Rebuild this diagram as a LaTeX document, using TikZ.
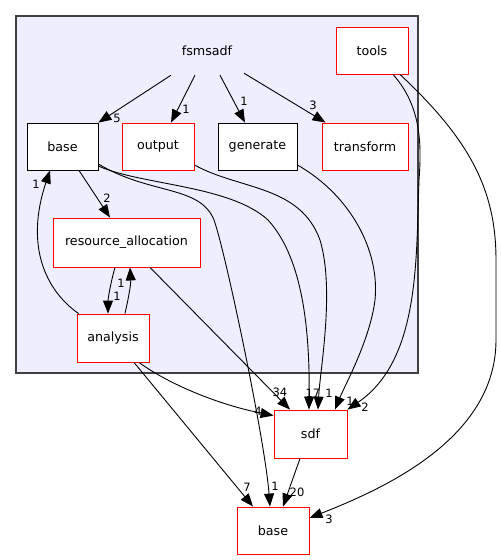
\documentclass[tikz,border=0pt]{standalone}
\usepackage{fontspec}
\setmainfont{DejaVu Sans}
\usetikzlibrary{calc,arrows.meta}
\definecolor{clusterbg}{HTML}{EEEEFF}
\definecolor{clusterline}{HTML}{404040}
\definecolor{dirred}{HTML}{FF0000}
\tikzset{
  dirbox/.style={draw=black, fill=white, line width=0.9pt, minimum height=47pt, inner sep=0pt, font=\fontsize{12.7}{15}\selectfont},
  dirred/.style={dirbox, draw=dirred},
  dep/.style={draw=black, line width=0.9pt, -{Triangle[length=13pt,width=10pt]}},
  num/.style={font=\fontsize{11.5}{13}\selectfont, inner sep=0pt}
}
\begin{document}
\begin{tikzpicture}[x=1pt,y=-1pt]
  \useasboundingbox (0,0) rectangle (501,560);
  \draw[fill=clusterbg, draw=clusterline, line width=1.1pt] (16,16) rectangle (418,373);
  \node[font=\fontsize{12.7}{15}\selectfont, minimum width=80pt, minimum height=48pt] (fsmsadf) at (207,51) {fsmsadf};
  \node[dirred, minimum width=72pt] (tools) at (372,50.5) {tools};
  \node[dirbox, minimum width=71pt] (baseA) at (62.5,146.5) {base};
  \node[dirred, minimum width=72pt] (output) at (158,146.5) {output};
  \node[dirbox, minimum width=79pt] (generate) at (257.5,146.5) {generate};
  \node[dirred, minimum width=86pt] (transform) at (365,146.5) {transform};
  \node[dirred, minimum width=147pt, minimum height=49pt] (resalloc) at (126.5,242.5) {resource\_allocation};
  \node[dirred, minimum width=72pt, minimum height=48pt] (analysis) at (113,338) {analysis};
  \node[dirred, minimum width=73pt, minimum height=48pt] (sdf) at (310.5,434) {sdf};
  \node[dirred, minimum width=72pt] (baseB) at (273,530.5) {base};

  % edges out of the cluster label
  \draw[dep] ($(fsmsadf.south)+(-36,0)$) -- (baseA.north east);
  \draw[dep] ($(fsmsadf.south)+(-12,0)$) -- ($(output.north)+(13,0)$);
  \draw[dep] ($(fsmsadf.south)+(13,0)$) -- ($(generate.north)+(-12.5,0)$);
  \draw[dep] ($(fsmsadf.south)+(37,-2)$) -- ($(transform.north west)+(4,0)$);
  \node[num] (n5) at (117,118) {5};
  \node[num] (n1o) at (186,109) {1};
  \node[num] (n1g) at (244,101) {1};
  \node[num] (n3t) at (313,105) {3};

  % inside the cluster
  \draw[dep] ($(baseA.south)+(16.5,0)$) -- ($(resalloc.north)+(-16.5,0)$);
  \draw[dep] ($(analysis.north west)+(2,0)$) .. controls (45,290) and (25,245) .. ($(baseA.south)+(-12.5,0)$);
  \draw[dep] ($(resalloc.south)+(-11.5,0)$) .. controls (110,285) and (108,300) .. ($(analysis.north)+(-5,0)$);
  \draw[dep] ($(analysis.north)+(12,0)$) .. controls (128,300) and (131,285) .. ($(resalloc.south)+(3.5,0)$);
  \node[num] (n2) at (107,198) {2};
  \node[num] (n1b) at (36,184) {1};
  \node[num] (n1a) at (117,296) {1};
  \node[num] (n1r) at (121,283) {1};

  % to sdf and base
  \draw[dep] ($(resalloc.south)+(23.5,0)$) -- ($(sdf.north)+(-20.5,0)$);
  \draw[dep] ($(analysis.south)+(26,0)$) .. controls (170,385) and (220,405) .. ($(sdf.north west)+(0,6)$);
  \draw[dep] ($(analysis.south)+(21,0)$) -- ($(baseB.north)+(-20,0)$);
  \draw[dep] ($(baseA.east)+(0,17.5)$) .. controls (150,195) and (200,185) .. (214,220)
    .. controls (225,250) and (265,440) .. ($(baseB.north)+(-3,0)$);
  \draw[dep] ($(baseA.east)+(0,19.5)$) .. controls (140,185) and (230,185) .. (268,220)
    .. controls (300,255) and (310,320) .. ($(sdf.north)+(-1.5,0)$);
  \draw[dep] ($(output.east)+(0,18.5)$) .. controls (240,190) and (300,185) .. (320,240)
    .. controls (335,290) and (320,370) .. ($(sdf.north)+(7.5,0)$);
  \draw[dep] ($(generate.east)+(0,18.5)$) .. controls (350,195) and (380,250) .. (375,300)
    .. controls (370,340) and (345,385) .. ($(sdf.north)+(24.5,0)$);
  \draw[dep] ($(tools.south)+(21,0)$) .. controls (420,105) and (422,140) .. (419,180)
    .. controls (416,260) and (420,360) .. (sdf.north east);
  \draw[dep] ($(tools.south)+(28,0)$) .. controls (470,140) and (496,190) .. (496,260)
    -- (496,340) .. controls (496,440) and (380,490) .. ($(baseB.east)+(0,-12.5)$);
  \draw[dep] ($(sdf.south)+(-10.5,0)$) -- ($(baseB.north)+(10,0)$);
  \node[num] (n34) at (280,392) {34};
  \node[num] (n17) at (313,393) {17};
  \node[num] (n1s) at (329,393) {1};
  \node[num] (n1gs) at (350,401) {1};
  \node[num] (n2s) at (365,407) {2};
  \node[num] (n4) at (258,411) {4};
  \node[num] (n7) at (247,487) {7};
  \node[num] (n1bb) at (275,486) {1};
  \node[num] (n20) at (297,492) {20};
  \node[num] (n3b) at (329,519) {3};
\end{tikzpicture}
\end{document}
